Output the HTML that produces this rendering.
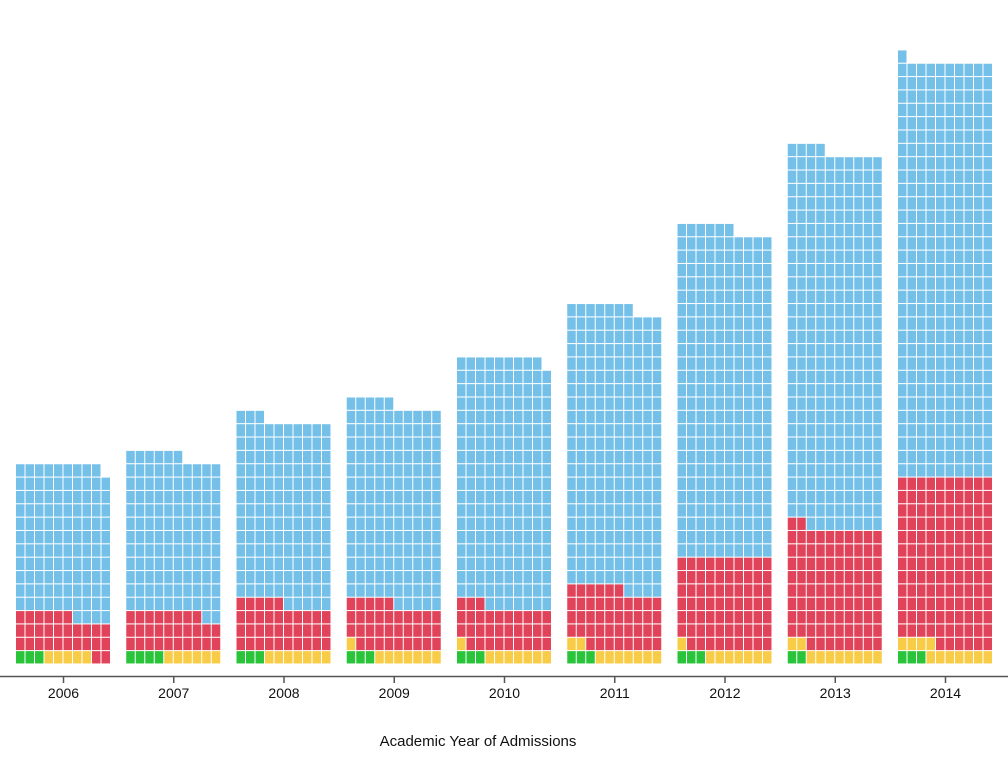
<!DOCTYPE html>
<html><head><meta charset="utf-8"><style>
html,body{margin:0;padding:0;background:#fff;}
svg{display:block;font-family:"Liberation Sans",sans-serif;}
</style></head><body>
<svg id="c" width="1008" height="762" xmlns="http://www.w3.org/2000/svg">
<line x1="0" y1="676.5" x2="1008" y2="676.5" stroke="#555" stroke-width="1.5"/>
<text x="478" y="746" font-size="15" text-anchor="middle" fill="#111">Academic Year of Admissions</text>
</svg>
<script>
var data=[
[2006,3,5,28,113],[2007,4,6,28,118],[2008,3,7,35,138],[2009,3,8,34,150],
[2010,3,8,32,186],[2011,3,9,44,211],[2012,3,8,69,246],[2013,2,10,90,282],[2014,3,11,126,311]];
var cols=["#29c43a","#f8cc47","#e0435a","#74c0e8"];
var svg=document.getElementById('c'),h="";
var P=9.5,R=13.35,base=664;
data.forEach(function(d,g){
  var x0=16+g*110.25,i=0;
  for(var c=0;c<4;c++){for(var k=0;k<d[c+1];k++){
    var col=i%10,row=Math.floor(i/10);
    h+='<rect x="'+(x0+col*P).toFixed(2)+'" y="'+(base-(row+1)*R+0.5).toFixed(2)+'" width="8.5" height="12.3" fill="'+cols[c]+'"/>';
    i++;}}
  var cx=x0+47.5;
  h+='<line x1="'+cx+'" y1="676" x2="'+cx+'" y2="683" stroke="#555" stroke-width="1.5"/>';
  h+='<text x="'+cx+'" y="698" font-size="14" text-anchor="middle" fill="#111">'+d[0]+'</text>';
});
svg.insertAdjacentHTML('beforeend',h);
</script>
</body></html>
